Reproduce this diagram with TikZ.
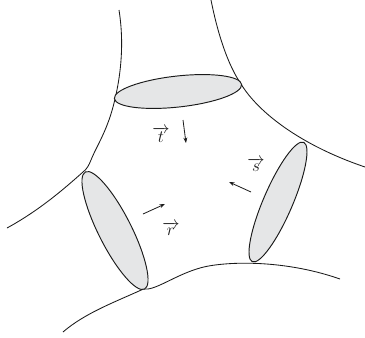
\documentclass[tikz,border=0pt]{standalone}
\usetikzlibrary{arrows.meta}
\definecolor{disc}{HTML}{E5E6E7}
\definecolor{ink}{HTML}{1A1A1A}
\tikzset{
  curveline/.style={draw=ink,line width=0.85pt},
  discshape/.style={draw=ink,fill=disc,line width=0.95pt},
  flowarrow/.style={draw=ink,line width=0.8pt,-{Stealth[length=5.5pt,width=4pt]}},
  veclabel/.style={text=ink,font=\fontsize{19}{22}\selectfont,inner sep=0pt}
}
\begin{document}
\begin{tikzpicture}[x=1pt,y=-1pt]
\useasboundingbox (0,0) rectangle (365,338);
% boundary curves
\draw[curveline] (119,10) .. controls (123,35) and (123,65) .. (115,99) .. controls (108,130) and (97,145) .. (91,160) .. controls (89,165) and (87,169) .. (83,172) .. controls (65,188) and (40,210) .. (7,228);
\draw[curveline] (211,0) .. controls (218,35) and (228,65) .. (241,84) .. controls (258,112) and (300,145) .. (365,167);
\draw[curveline] (63,332) .. controls (85,313) and (115,302) .. (143.5,289) .. controls (155,291) and (175,275) .. (200,268) .. controls (220,262) and (280,258) .. (340,279);
% discs
\draw[discshape] (178,91.5) ellipse[x radius=64,y radius=15.5,rotate=6.3];
\draw[discshape] (115,230.5) ellipse[x radius=65.6,y radius=16.5,rotate=-63.2];
\draw[discshape] (278,202) ellipse[x radius=65,y radius=14.6,rotate=66.7];
% flow arrows
\coordinate (ta) at (183,120); \coordinate (tb) at (186,143);
\coordinate (ra) at (143,214); \coordinate (rb) at (165,204);
\coordinate (sa) at (251,192); \coordinate (sb) at (229,182);
\draw[flowarrow] (ta) -- (tb);
\draw[flowarrow] (ra) -- (rb);
\draw[flowarrow] (sa) -- (sb);
% labels
\node[veclabel] (tl) at (161,135) {$\overrightarrow{t}$};
\node[veclabel] (rl) at (171,229) {$\overrightarrow{r}$};
\node[veclabel] (sl) at (256,165) {$\overrightarrow{s}$};
\end{tikzpicture}
\end{document}
